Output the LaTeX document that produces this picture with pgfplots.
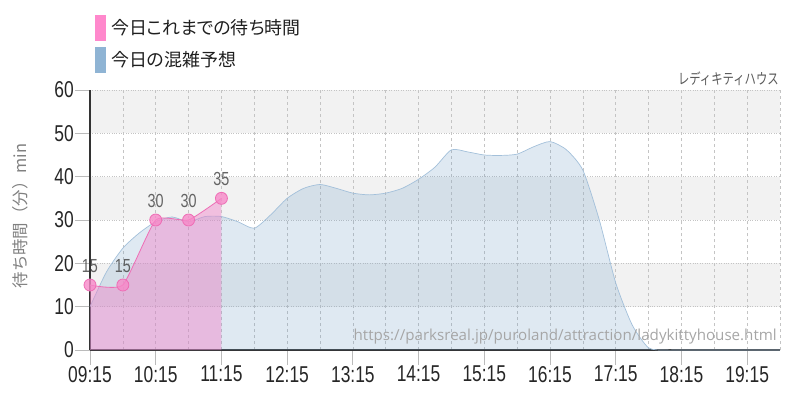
\documentclass[border=0pt]{standalone}
\usepackage{fontspec}
\usepackage{pgfplots}
\pgfplotsset{compat=1.18}
\setmainfont{Liberation Sans}
\newfontfamily\condfont[FakeStretch=0.76]{Liberation Sans}
\newfontfamily\jp[RawFeature=+palt]{Noto Sans CJK JP}
\newfontfamily\jpfull{Noto Sans CJK JP}
\newfontfamily\jpnarrow[FakeStretch=0.76]{Noto Sans CJK JP}
\newfontfamily\urlfont{Open Sans}
\definecolor{bandgray}{HTML}{F2F2F2}
\definecolor{gridgray}{HTML}{C4C4C4}
\definecolor{tickgray}{HTML}{BBBBBB}
\definecolor{bluefill}{HTML}{74A0C7}
\definecolor{blueline}{HTML}{A3C0DA}
\definecolor{pinkfill}{HTML}{F082C8}
\definecolor{pinkline}{HTML}{EE6DB5}
\definecolor{pinkmark}{HTML}{F788C8}
\definecolor{legpink}{HTML}{FF88CC}
\definecolor{legblue}{HTML}{8FB4D4}

\pgfplotstableread{
t v
9.25 10
9.5 18
9.75 23.5
10.0 27
10.25 29.6
10.5 30.7
10.75 29.6
11.0 30.8
11.25 30.8
11.5 29.6
11.75 28.1
12.0 31.2
12.25 35
12.5 37.3
12.75 38.2
13.0 37.3
13.25 36.2
13.5 35.8
13.75 36.2
14.0 37.3
14.25 39.4
14.5 42.2
14.75 46.2
15.0 45.7
15.25 45
15.5 44.9
15.75 45.2
16.0 46.9
16.25 48.1
16.5 46.2
16.75 41.5
17.0 30
17.25 15.5
17.5 5.8
17.75 0.5
18.0 0
18.25 0
18.5 0
18.75 0
19.0 0
19.25 0
19.5 0
19.75 0
}\forecast

\pgfplotstableread{
t v
9.25 15
9.75 15
10.25 30
10.75 30
11.25 35
}\actual

\begin{document}
\begin{tikzpicture}[x=1bp,y=1bp]
\begin{axis}[
  set layers,
  at={(0,0)}, anchor=south west,
  scale only axis, width=690bp, height=260bp,
  xmin=9.25, xmax=19.75, ymin=0, ymax=60,
  axis lines=left,
  axis line style={-, draw=black!80, line width=1.3bp},
  xtick={9.25,10.25,11.25,12.25,13.25,14.25,15.25,16.25,17.25,18.25,19.25},
  xticklabels={09:15,10:15,11:15,12:15,13:15,14:15,15:15,16:15,17:15,18:15,19:15},
  minor xtick={9.75,10.75,11.75,12.75,13.75,14.75,15.75,16.75,17.75,18.75,19.75},
  ytick={0,10,20,30,40,50,60},
  yticklabels={0,10,20,30,40,50,60},
  tick align=outside,
  major tick length=15bp, minor tick length=0bp,
  tick style={draw=tickgray, line width=0.8bp},
  xmajorgrids, xminorgrids, ymajorgrids,
  x grid style={draw=gridgray, dashed, line width=0.6bp},
  y grid style={draw=gridgray, dotted, line width=0.8bp},
  ticklabel style={font=\condfont\fontsize{23}{23}\selectfont, text=black!85, inner sep=1bp},
  clip=false,
]
\addplot[draw=none, fill=bandgray, on layer=axis background] coordinates {(9.25,10) (19.75,10) (19.75,20) (9.25,20)} -- cycle;
\addplot[draw=none, fill=bandgray, on layer=axis background] coordinates {(9.25,30) (19.75,30) (19.75,40) (9.25,40)} -- cycle;
\addplot[draw=none, fill=bandgray, on layer=axis background] coordinates {(9.25,50) (19.75,50) (19.75,60) (9.25,60)} -- cycle;
% forecast
\addplot[draw=none, fill=bluefill, fill opacity=0.23, smooth, tension=0.4] table[x=t,y=v]{\forecast} \closedcycle;
\addplot[draw=blueline, line width=0.7bp, smooth, tension=0.4] table[x=t,y=v]{\forecast};
% actual
\addplot[draw=none, fill=pinkfill, fill opacity=0.45, smooth, tension=0.3] table[x=t,y=v]{\actual} \closedcycle;
\addplot[draw=pinkline, line width=0.8bp, smooth, tension=0.3,
  mark=*, mark size=6bp, mark options={draw=none, fill=pinkmark, fill opacity=0.8},
  nodes near coords={\condfont\fontsize{19}{19}\selectfont\pgfplotspointmeta},
  point meta=explicit symbolic,
  every node near coord/.style={text=black!75, anchor=south, inner sep=0pt, yshift=12bp}]
  table[x=t,y=v,meta=v]{\actual};
\end{axis}
% legend
\fill[legpink] (5,309) rectangle (16,335);
\fill[legblue] (5,277) rectangle (16,303);
\node[anchor=west, inner sep=0pt, text=black!88, font=\jp\fontsize{18}{18}\selectfont] at (21,322) {今日これまでの待ち時間};
\node[anchor=west, inner sep=0pt, text=black!88, font=\jp\fontsize{18}{18}\selectfont] at (21,290) {今日の混雑予想};
% title
\node[anchor=east, inner sep=0pt, text=black!65, font=\jpnarrow\fontsize{15}{15}\selectfont] at (689,271) {レディキティハウス};
% url
\node[anchor=east, inner sep=0pt, text=black!35, font=\urlfont\fontsize{15.2}{15.2}\selectfont] at (687,13) {https://parksreal.jp/puroland/attraction/ladykittyhouse.html};
% y label
\node[rotate=90, inner sep=0pt, text=black!50, font=\jpfull\fontsize{16.5}{16.5}\selectfont] at (-70,134) {待ち時間（分）min};
\path (-90,-50) rectangle (710,350);
\end{tikzpicture}
\end{document}
